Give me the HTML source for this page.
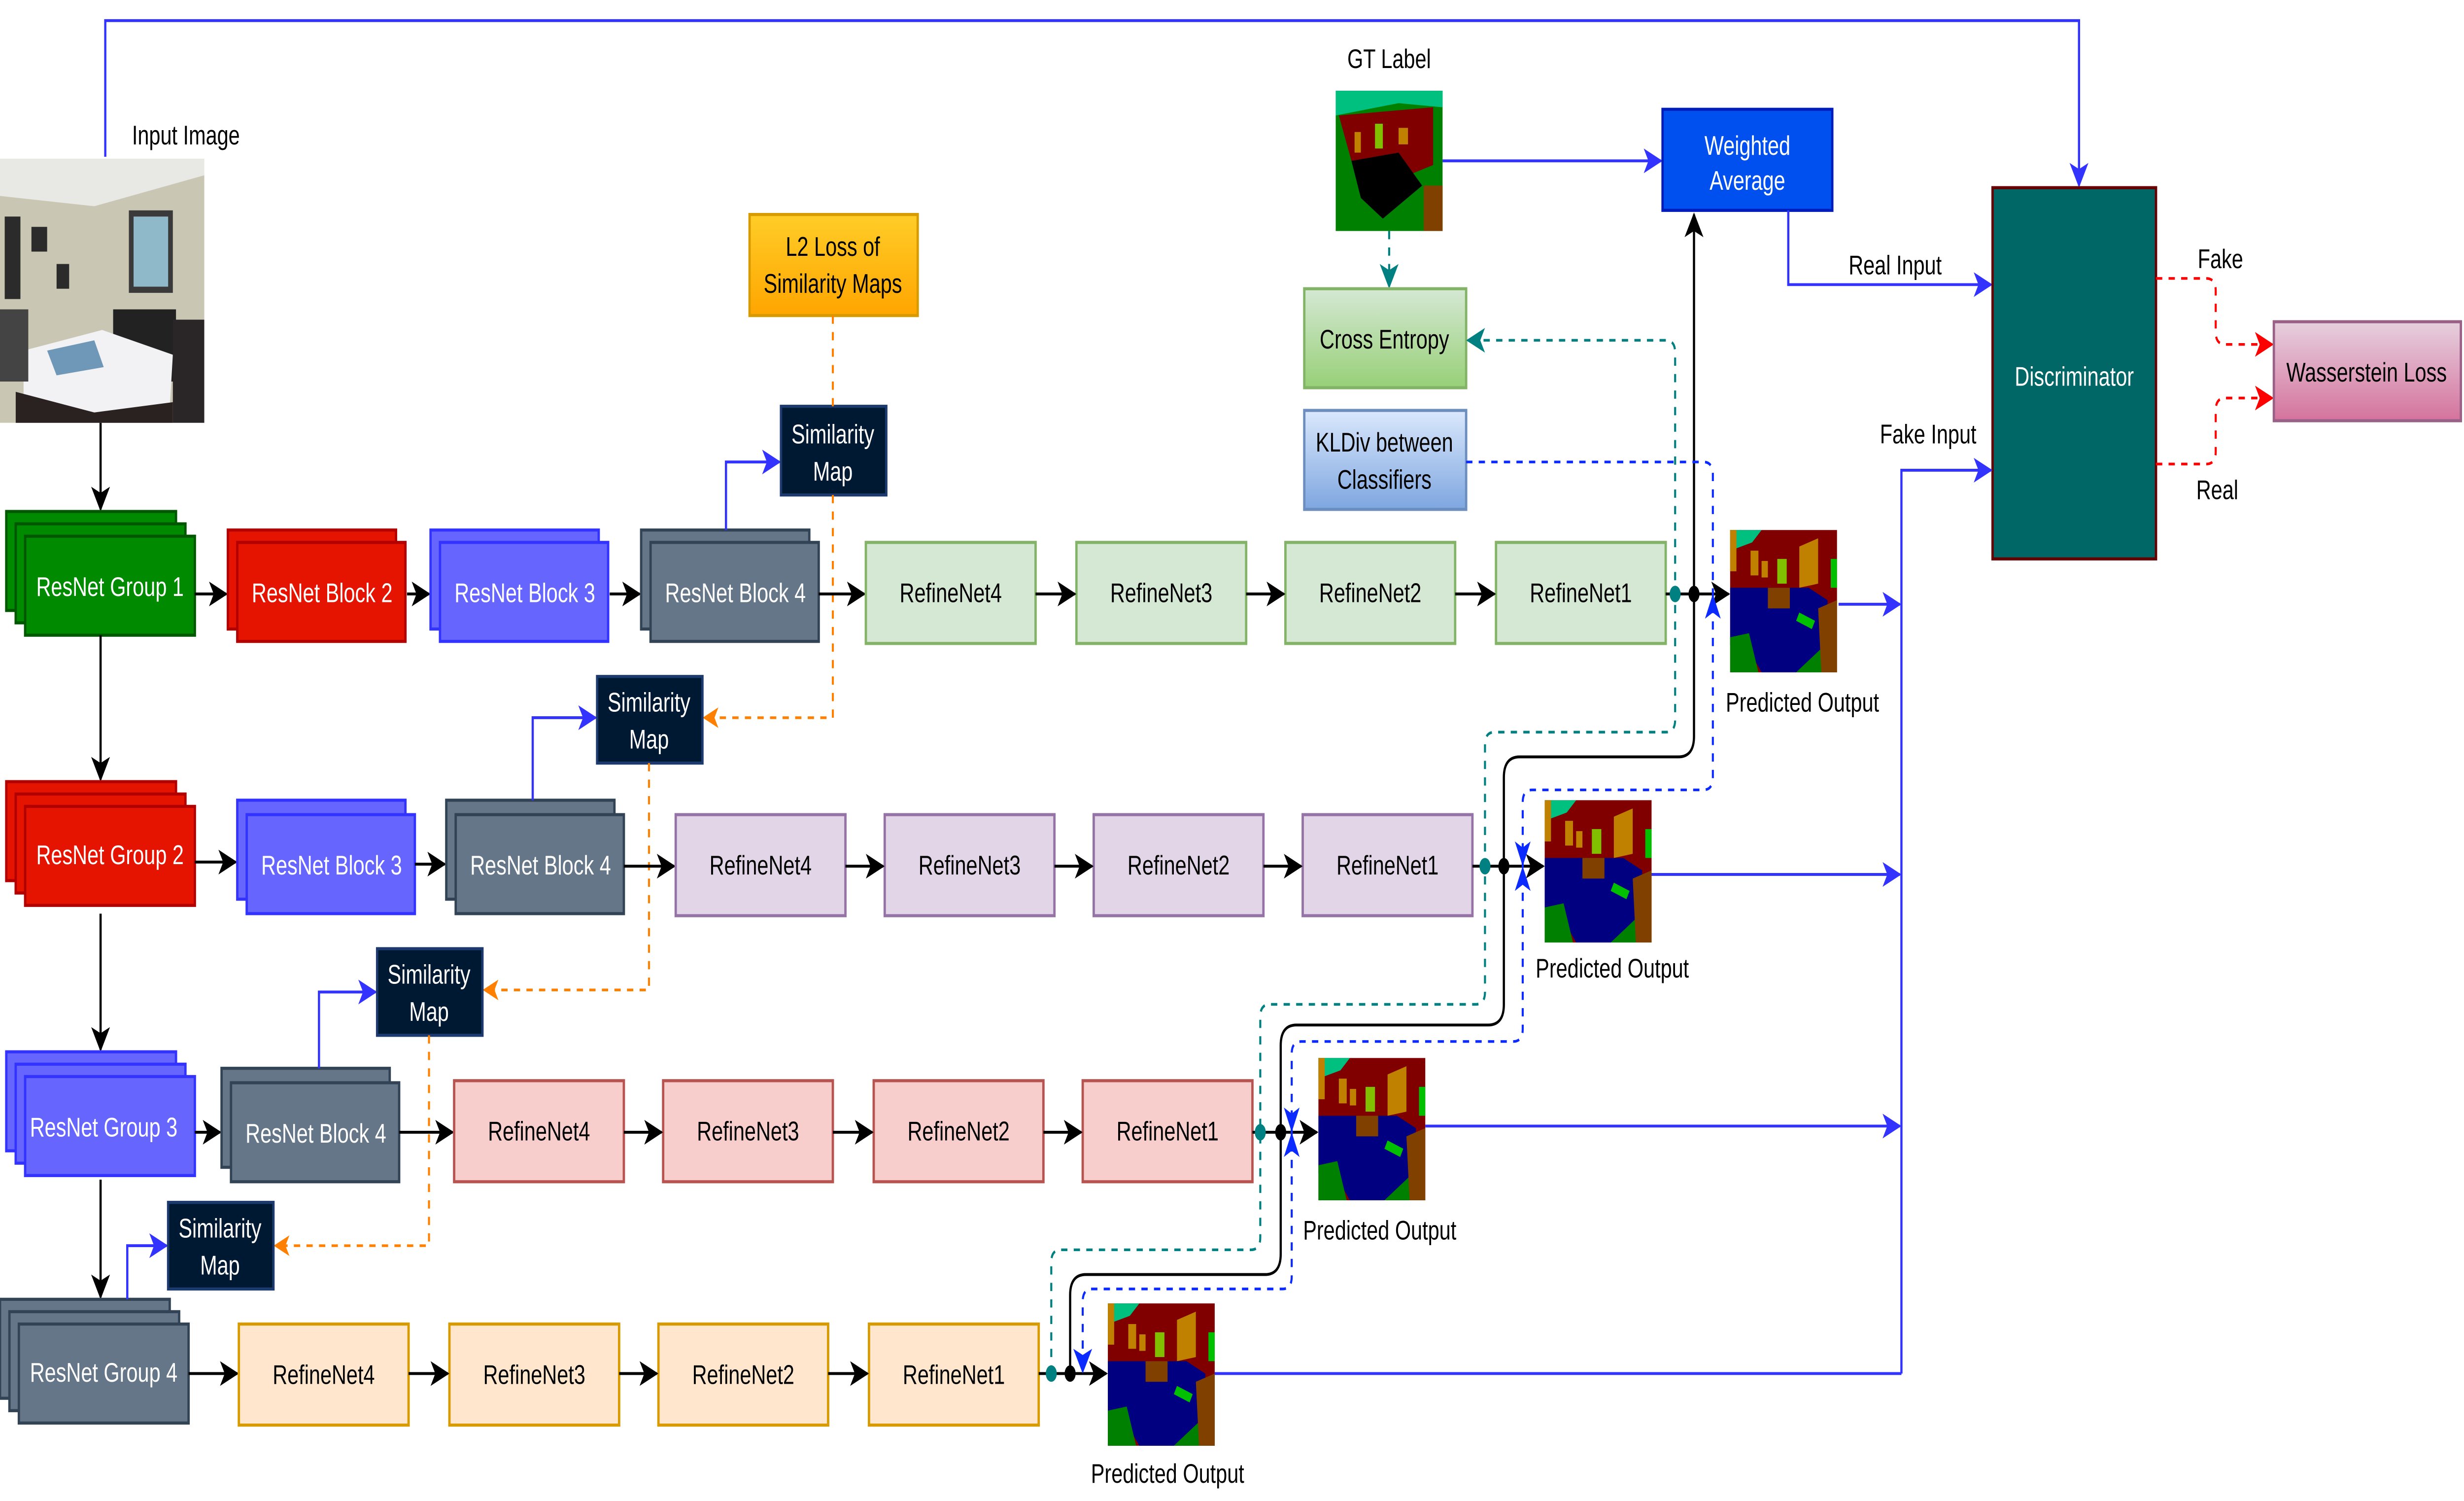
<!DOCTYPE html>
<html><head><meta charset="utf-8"><style>
html,body{margin:0;padding:0;background:#fff;width:100vw;height:100vh;overflow:hidden;}
svg{display:block;width:100vw;height:100vh;}
text{font-family:"Liberation Sans",Arial,sans-serif;font-size:13px;}
</style></head><body>
<svg viewBox="0 0 1568 727.8" preserveAspectRatio="none" xmlns="http://www.w3.org/2000/svg">
<defs>
<marker id="ak" markerUnits="userSpaceOnUse" markerWidth="12" markerHeight="12" viewBox="0 0 12 12" refX="11" refY="6" orient="auto"><path d="M0,0 L12,6 L0,12 L3,6 Z" fill="#000"/></marker>
<marker id="ab" markerUnits="userSpaceOnUse" markerWidth="12" markerHeight="12" viewBox="0 0 12 12" refX="11" refY="6" orient="auto"><path d="M0,0 L12,6 L0,12 L3,6 Z" fill="#3333ff"/></marker>
<marker id="ab2" markerUnits="userSpaceOnUse" markerWidth="12" markerHeight="12" viewBox="0 0 12 12" refX="11" refY="6" orient="auto"><path d="M0,0 L12,6 L0,12 L3,6 Z" fill="#0a2aff"/></marker>
<marker id="ao" markerUnits="userSpaceOnUse" markerWidth="10" markerHeight="10" viewBox="0 0 12 12" refX="11" refY="6" orient="auto"><path d="M0,0 L12,6 L0,12 L3,6 Z" fill="#ff8000"/></marker>
<marker id="at" markerUnits="userSpaceOnUse" markerWidth="12" markerHeight="12" viewBox="0 0 12 12" refX="11" refY="6" orient="auto"><path d="M0,0 L12,6 L0,12 L3,6 Z" fill="#008080"/></marker>
<marker id="ar" markerUnits="userSpaceOnUse" markerWidth="12" markerHeight="12" viewBox="0 0 12 12" refX="11" refY="6" orient="auto"><path d="M0,0 L12,6 L0,12 L3,6 Z" fill="#ff0000"/></marker>
<linearGradient id="gL2" x1="0" y1="0" x2="0" y2="1"><stop offset="0" stop-color="#ffcd28"/><stop offset="1" stop-color="#ffa500"/></linearGradient>
<linearGradient id="gCE" x1="0" y1="0" x2="0" y2="1"><stop offset="0" stop-color="#d5e8d4"/><stop offset="1" stop-color="#97d077"/></linearGradient>
<linearGradient id="gKL" x1="0" y1="0" x2="0" y2="1"><stop offset="0" stop-color="#dae8fc"/><stop offset="1" stop-color="#7ea6e0"/></linearGradient>
<linearGradient id="gW" x1="0" y1="0" x2="0" y2="1"><stop offset="0" stop-color="#e6d0de"/><stop offset="1" stop-color="#d5739d"/></linearGradient>
<g id="seg">
<rect x="0" y="0" width="68" height="69" fill="#800000"/>
<polygon points="0,0 20,0 14,6 0,10" fill="#00c080"/>
<rect x="0" y="0" width="4" height="20" fill="#c08000"/>
<polygon points="44,8 56,4 56,26 44,28" fill="#c08000"/>
<rect x="30" y="14" width="6" height="12" fill="#80c000"/>
<rect x="13" y="10" width="5" height="12" fill="#c08000"/>
<rect x="20" y="15" width="4" height="8" fill="#c08000"/>
<polygon points="0,28 50,28 62,34 62,50 52,69 20,69 12,58 0,56" fill="#000080"/>
<rect x="24" y="28" width="14" height="10" fill="#804000"/>
<polygon points="0,52 12,50 18,69 0,69" fill="#008000"/>
<polygon points="42,69 60,56 68,69" fill="#008000"/>
<polygon points="56,38 68,34 68,69 58,69" fill="#804000"/>
<polygon points="44,40 54,44 52,48 42,44" fill="#00c000"/>
<rect x="64" y="14" width="4" height="14" fill="#00c000"/>
</g>
</defs>

<path d="M67,76 V10 H1323 V90" fill="none" stroke="#3333ff" stroke-width="1.4" marker-end="url(#ab)"/>
<text x="84" y="70">Input Image</text>

<g>
<rect x="0" y="77" width="130" height="128" fill="#c9c7b4"/>
<polygon points="0,77 130,77 130,85 60,100 0,95" fill="#e8e8e4"/>
<rect x="82" y="102" width="28" height="40" fill="#3a3a3a"/>
<rect x="85" y="105" width="22" height="34" fill="#8fb8c8"/>
<rect x="3" y="105" width="10" height="40" fill="#2b2b2b"/>
<rect x="20" y="110" width="10" height="12" fill="#2b2b2b"/>
<rect x="36" y="128" width="8" height="12" fill="#2b2b2b"/>
<rect x="72" y="150" width="40" height="35" fill="#222"/>
<polygon points="15,170 65,160 110,172 108,198 60,205 15,195" fill="#f2f2f5"/>
<polygon points="30,170 60,165 66,178 36,182" fill="#6f98b8"/>
<polygon points="10,190 60,200 110,195 110,205 10,205" fill="#2a2220"/>
<rect x="110" y="155" width="20" height="50" fill="#2a2526"/>
<rect x="0" y="150" width="18" height="35" fill="#444"/>
</g>
<path d="M64,205 V247" stroke="#000" stroke-width="1.4" marker-end="url(#ak)"/>

<!-- ROW 1 -->
<rect x="4" y="248" width="108" height="48" fill="#008a00" stroke="#005700" stroke-width="1.5"/>
<rect x="10" y="254" width="108" height="48" fill="#008a00" stroke="#005700" stroke-width="1.5"/>
<rect x="16" y="260" width="108" height="48" fill="#008a00" stroke="#005700" stroke-width="1.5"/>
<text x="70" y="289" fill="#fff" text-anchor="middle">ResNet Group 1</text>
<path d="M124,288 H144" stroke="#000" stroke-width="1.4" marker-end="url(#ak)"/>
<rect x="145" y="257" width="107" height="48" fill="#e51400" stroke="#b20000" stroke-width="1.5"/>
<rect x="151" y="263" width="107" height="48" fill="#e51400" stroke="#b20000" stroke-width="1.5"/>
<text x="205" y="292" fill="#fff" text-anchor="middle">ResNet Block 2</text>
<path d="M259,288 H273" stroke="#000" stroke-width="1.4" marker-end="url(#ak)"/>
<rect x="274" y="257" width="107" height="48" fill="#6666ff" stroke="#3333ff" stroke-width="1.5"/>
<rect x="280" y="263" width="107" height="48" fill="#6666ff" stroke="#3333ff" stroke-width="1.5"/>
<text x="334" y="292" fill="#fff" text-anchor="middle">ResNet Block 3</text>
<path d="M388,288 H407" stroke="#000" stroke-width="1.4" marker-end="url(#ak)"/>
<rect x="408" y="257" width="107" height="48" fill="#647687" stroke="#314354" stroke-width="1.5"/>
<rect x="414" y="263" width="107" height="48" fill="#647687" stroke="#314354" stroke-width="1.5"/>
<text x="468" y="292" fill="#fff" text-anchor="middle">ResNet Block 4</text>
<path d="M462,257 V224 H496" fill="none" stroke="#3333ff" stroke-width="1.4" marker-end="url(#ab)"/>
<rect x="497" y="197" width="67" height="43" fill="#001933" stroke="#1c3a6e" stroke-width="1.5"/>
<text x="530" y="215" fill="#fff" text-anchor="middle">Similarity</text>
<text x="530" y="233" fill="#fff" text-anchor="middle">Map</text>
<rect x="477" y="104" width="107" height="49" fill="url(#gL2)" stroke="#d79b00" stroke-width="1.5"/>
<text x="530" y="124" text-anchor="middle">L2 Loss of</text>
<text x="530" y="142" text-anchor="middle">Similarity Maps</text>
<path d="M530,153 V197 M530,240 V348 H448" fill="none" stroke="#ff8000" stroke-width="1.3" stroke-dasharray="4,4" marker-end="url(#ao)"/>
<path d="M521,288 H550" stroke="#000" stroke-width="1.4" marker-end="url(#ak)"/>
<g fill="#d5e8d4" stroke="#82b366" stroke-width="1.5">
<rect x="551" y="263" width="108" height="49"/><rect x="685" y="263" width="108" height="49"/>
<rect x="818" y="263" width="108" height="49"/><rect x="952" y="263" width="108" height="49"/></g>
<g text-anchor="middle"><text x="605" y="292">RefineNet4</text><text x="739" y="292">RefineNet3</text><text x="872" y="292">RefineNet2</text><text x="1006" y="292">RefineNet1</text></g>
<path d="M659,288 H684" stroke="#000" stroke-width="1.4" marker-end="url(#ak)"/>
<path d="M793,288 H817" stroke="#000" stroke-width="1.4" marker-end="url(#ak)"/>
<path d="M926,288 H951" stroke="#000" stroke-width="1.4" marker-end="url(#ak)"/>
<path d="M1060,288 H1100" stroke="#000" stroke-width="1.4" marker-end="url(#ak)"/>
<use href="#seg" x="1101" y="257"/>
<text x="1147" y="345" text-anchor="middle">Predicted Output</text>
<path d="M1170,293 H1209" stroke="#3333ff" stroke-width="1.4" marker-end="url(#ab)"/>

<text x="884" y="33" text-anchor="middle">GT Label</text>
<g>
<rect x="850" y="44" width="68" height="68" fill="#008000"/>
<polygon points="850,44 918,44 918,52 890,50 850,56" fill="#00c080"/>
<polygon points="852,56 912,52 912,80 880,90 860,78" fill="#800000"/>
<polygon points="860,78 890,74 905,90 880,106 866,96" fill="#000"/>
<rect x="875" y="60" width="5" height="12" fill="#80c000"/>
<rect x="890" y="62" width="6" height="8" fill="#c08000"/>
<rect x="906" y="90" width="12" height="22" fill="#804000"/>
<rect x="862" y="64" width="4" height="10" fill="#c08000"/>
</g>
<path d="M918,78 H1057" stroke="#3333ff" stroke-width="1.4" marker-end="url(#ab)"/>
<rect x="1058" y="53" width="108" height="49" fill="#0050ef" stroke="#001dbc" stroke-width="1.5"/>
<text x="1112" y="75" fill="#fff" text-anchor="middle">Weighted</text>
<text x="1112" y="92" fill="#fff" text-anchor="middle">Average</text>
<path d="M1138,102 V138 H1267" fill="none" stroke="#3333ff" stroke-width="1.4" marker-end="url(#ab)"/>
<text x="1206" y="133" text-anchor="middle">Real Input</text>
<path d="M884,112 V139" stroke="#008080" stroke-width="1.3" stroke-dasharray="4,4" marker-end="url(#at)"/>
<rect x="830" y="140" width="103" height="48" fill="url(#gCE)" stroke="#82b366" stroke-width="1.5"/>
<text x="881" y="169" text-anchor="middle">Cross Entropy</text>
<rect x="830" y="199" width="103" height="48" fill="url(#gKL)" stroke="#6c8ebf" stroke-width="1.5"/>
<text x="881" y="219" text-anchor="middle">KLDiv between</text>
<text x="881" y="237" text-anchor="middle">Classifiers</text>

<rect x="1268" y="91" width="104" height="180" fill="#006666" stroke="#660000" stroke-width="1.5"/>
<text x="1320" y="187" fill="#fff" text-anchor="middle">Discriminator</text>
<path d="M1210,666 V228 H1267" fill="none" stroke="#3333ff" stroke-width="1.4" marker-end="url(#ab)"/>
<text x="1227" y="215" text-anchor="middle">Fake Input</text>
<text x="1413" y="130" text-anchor="middle">Fake</text>
<text x="1411" y="242" text-anchor="middle">Real</text>
<path d="M1372,135 H1404 Q1410,135 1410,141 V161 Q1410,167 1416,167 H1446" fill="none" stroke="#ff0000" stroke-width="1.3" stroke-dasharray="4,4" marker-end="url(#ar)"/>
<path d="M1372,225 H1404 Q1410,225 1410,219 V199 Q1410,193 1416,193 H1446" fill="none" stroke="#ff0000" stroke-width="1.3" stroke-dasharray="4,4" marker-end="url(#ar)"/>
<rect x="1447" y="156" width="119" height="48" fill="url(#gW)" stroke="#996185" stroke-width="1.5"/>
<text x="1506" y="185" text-anchor="middle">Wasserstein Loss</text>

<!-- ROW 2 -->
<path d="M64,308 V378" stroke="#000" stroke-width="1.4" marker-end="url(#ak)"/>
<rect x="4" y="379" width="108" height="48" fill="#e51400" stroke="#b20000" stroke-width="1.5"/>
<rect x="10" y="385" width="108" height="48" fill="#e51400" stroke="#b20000" stroke-width="1.5"/>
<rect x="16" y="391" width="108" height="48" fill="#e51400" stroke="#b20000" stroke-width="1.5"/>
<text x="70" y="419" fill="#fff" text-anchor="middle">ResNet Group 2</text>
<path d="M124,418 H150" stroke="#000" stroke-width="1.4" marker-end="url(#ak)"/>
<rect x="151" y="388" width="107" height="48" fill="#6666ff" stroke="#3333ff" stroke-width="1.5"/>
<rect x="157" y="395" width="107" height="48" fill="#6666ff" stroke="#3333ff" stroke-width="1.5"/>
<text x="211" y="424" fill="#fff" text-anchor="middle">ResNet Block 3</text>
<path d="M264,419 H283" stroke="#000" stroke-width="1.4" marker-end="url(#ak)"/>
<rect x="284" y="388" width="107" height="48" fill="#647687" stroke="#314354" stroke-width="1.5"/>
<rect x="290" y="395" width="107" height="48" fill="#647687" stroke="#314354" stroke-width="1.5"/>
<text x="344" y="424" fill="#fff" text-anchor="middle">ResNet Block 4</text>
<path d="M339,388 V348 H379" fill="none" stroke="#3333ff" stroke-width="1.4" marker-end="url(#ab)"/>
<rect x="380" y="328" width="67" height="42" fill="#001933" stroke="#1c3a6e" stroke-width="1.5"/>
<text x="413" y="345" fill="#fff" text-anchor="middle">Similarity</text>
<text x="413" y="363" fill="#fff" text-anchor="middle">Map</text>
<path d="M413,370 V480 H308" fill="none" stroke="#ff8000" stroke-width="1.3" stroke-dasharray="4,4" marker-end="url(#ao)"/>
<path d="M397,420 H429" stroke="#000" stroke-width="1.4" marker-end="url(#ak)"/>
<g fill="#e1d5e7" stroke="#9673a6" stroke-width="1.5">
<rect x="430" y="395" width="108" height="49"/><rect x="563" y="395" width="108" height="49"/>
<rect x="696" y="395" width="108" height="49"/><rect x="829" y="395" width="108" height="49"/></g>
<g text-anchor="middle"><text x="484" y="424">RefineNet4</text><text x="617" y="424">RefineNet3</text><text x="750" y="424">RefineNet2</text><text x="883" y="424">RefineNet1</text></g>
<path d="M538,420 H562" stroke="#000" stroke-width="1.4" marker-end="url(#ak)"/>
<path d="M671,420 H695" stroke="#000" stroke-width="1.4" marker-end="url(#ak)"/>
<path d="M804,420 H828" stroke="#000" stroke-width="1.4" marker-end="url(#ak)"/>
<path d="M937,420 H982" stroke="#000" stroke-width="1.4" marker-end="url(#ak)"/>
<use href="#seg" x="983" y="388"/>
<text x="1026" y="474" text-anchor="middle">Predicted Output</text>
<path d="M1051,424 H1209" stroke="#3333ff" stroke-width="1.4" marker-end="url(#ab)"/>

<!-- ROW 3 -->
<path d="M64,443 V509" stroke="#000" stroke-width="1.4" marker-end="url(#ak)"/>
<rect x="4" y="510" width="108" height="48" fill="#6666ff" stroke="#3333ff" stroke-width="1.5"/>
<rect x="10" y="516" width="108" height="48" fill="#6666ff" stroke="#3333ff" stroke-width="1.5"/>
<rect x="16" y="522" width="108" height="48" fill="#6666ff" stroke="#3333ff" stroke-width="1.5"/>
<text x="66" y="551" fill="#fff" text-anchor="middle">ResNet Group 3</text>
<path d="M124,549 H140" stroke="#000" stroke-width="1.4" marker-end="url(#ak)"/>
<rect x="141" y="518" width="107" height="48" fill="#647687" stroke="#314354" stroke-width="1.5"/>
<rect x="147" y="525" width="107" height="48" fill="#647687" stroke="#314354" stroke-width="1.5"/>
<text x="201" y="554" fill="#fff" text-anchor="middle">ResNet Block 4</text>
<path d="M203,518 V481 H239" fill="none" stroke="#3333ff" stroke-width="1.4" marker-end="url(#ab)"/>
<rect x="240" y="460" width="67" height="42" fill="#001933" stroke="#1c3a6e" stroke-width="1.5"/>
<text x="273" y="477" fill="#fff" text-anchor="middle">Similarity</text>
<text x="273" y="495" fill="#fff" text-anchor="middle">Map</text>
<path d="M273,502 V604 H175" fill="none" stroke="#ff8000" stroke-width="1.3" stroke-dasharray="4,4" marker-end="url(#ao)"/>
<path d="M254,549 H288" stroke="#000" stroke-width="1.4" marker-end="url(#ak)"/>
<g fill="#f8cecc" stroke="#b85450" stroke-width="1.5">
<rect x="289" y="524" width="108" height="49"/><rect x="422" y="524" width="108" height="49"/>
<rect x="556" y="524" width="108" height="49"/><rect x="689" y="524" width="108" height="49"/></g>
<g text-anchor="middle"><text x="343" y="553">RefineNet4</text><text x="476" y="553">RefineNet3</text><text x="610" y="553">RefineNet2</text><text x="743" y="553">RefineNet1</text></g>
<path d="M397,549 H421" stroke="#000" stroke-width="1.4" marker-end="url(#ak)"/>
<path d="M530,549 H555" stroke="#000" stroke-width="1.4" marker-end="url(#ak)"/>
<path d="M664,549 H688" stroke="#000" stroke-width="1.4" marker-end="url(#ak)"/>
<path d="M797,549 H838" stroke="#000" stroke-width="1.4" marker-end="url(#ak)"/>
<use href="#seg" x="839" y="513"/>
<text x="878" y="601" text-anchor="middle">Predicted Output</text>
<path d="M907,546 H1209" stroke="#3333ff" stroke-width="1.4" marker-end="url(#ab)"/>

<!-- ROW 4 -->
<path d="M64,572 V629" stroke="#000" stroke-width="1.4" marker-end="url(#ak)"/>
<rect x="0" y="630" width="108" height="48" fill="#647687" stroke="#314354" stroke-width="1.5"/>
<rect x="6" y="636" width="108" height="48" fill="#647687" stroke="#314354" stroke-width="1.5"/>
<rect x="12" y="642" width="108" height="48" fill="#647687" stroke="#314354" stroke-width="1.5"/>
<text x="66" y="670" fill="#fff" text-anchor="middle">ResNet Group 4</text>
<path d="M81,630 V604 H106" fill="none" stroke="#3333ff" stroke-width="1.4" marker-end="url(#ab)"/>
<rect x="107" y="583" width="67" height="42" fill="#001933" stroke="#1c3a6e" stroke-width="1.5"/>
<text x="140" y="600" fill="#fff" text-anchor="middle">Similarity</text>
<text x="140" y="618" fill="#fff" text-anchor="middle">Map</text>
<path d="M120,666 H151" stroke="#000" stroke-width="1.4" marker-end="url(#ak)"/>
<g fill="#ffe6cc" stroke="#d79b00" stroke-width="1.5">
<rect x="152" y="642" width="108" height="49"/><rect x="286" y="642" width="108" height="49"/>
<rect x="419" y="642" width="108" height="49"/><rect x="553" y="642" width="108" height="49"/></g>
<g text-anchor="middle"><text x="206" y="671">RefineNet4</text><text x="340" y="671">RefineNet3</text><text x="473" y="671">RefineNet2</text><text x="607" y="671">RefineNet1</text></g>
<path d="M260,666 H285" stroke="#000" stroke-width="1.4" marker-end="url(#ak)"/>
<path d="M394,666 H418" stroke="#000" stroke-width="1.4" marker-end="url(#ak)"/>
<path d="M527,666 H552" stroke="#000" stroke-width="1.4" marker-end="url(#ak)"/>
<path d="M661,666 H704" stroke="#000" stroke-width="1.4" marker-end="url(#ak)"/>
<use href="#seg" x="705" y="632"/>
<text x="743" y="719" text-anchor="middle">Predicted Output</text>
<path d="M773,666 H1210" stroke="#3333ff" stroke-width="1.4"/>

<path d="M669,666 V612 Q669,606 675,606 H796 Q802,606 802,600 V493 Q802,487 808,487 H939 Q945,487 945,481 V361 Q945,355 951,355 H1060 Q1066,355 1066,349 V171 Q1066,165 1060,165 H934" fill="none" stroke="#008080" stroke-width="1.3" stroke-dasharray="4,4" marker-end="url(#at)"/>
<path d="M681,666 V628 Q681,618 691,618 H805 Q815,618 815,608 V507 Q815,497 825,497 H947 Q957,497 957,487 V377 Q957,367 967,367 H1068 Q1078,367 1078,357 V104" fill="none" stroke="#000" stroke-width="1.4" marker-end="url(#ak)"/>
<path d="M933,224 H1084 Q1090,224 1090,230 V377 Q1090,383 1084,383 H975 Q969,383 969,389 V499 Q969,505 963,505 H828 Q822,505 822,511 V619 Q822,625 816,625 H695 Q689,625 689,631 V665" fill="none" stroke="#0a2aff" stroke-width="1.3" stroke-dasharray="4,4" marker-end="url(#ab2)"/>
<path d="M1090,288 L1085,300 L1090,297 L1095,300 Z" fill="#0a2aff"/>
<path d="M969,420 L964,408 L969,411 L974,408 Z" fill="#0a2aff"/>
<path d="M969,420 L964,432 L969,429 L974,432 Z" fill="#0a2aff"/>
<path d="M822,549 L817,537 L822,540 L827,537 Z" fill="#0a2aff"/>
<path d="M822,549 L817,561 L822,558 L827,561 Z" fill="#0a2aff"/>
<g fill="#008080"><ellipse cx="1066" cy="288" rx="3.5" ry="4"/><ellipse cx="945" cy="420" rx="3.5" ry="4"/><ellipse cx="802" cy="549" rx="3.5" ry="4"/><ellipse cx="669" cy="666" rx="3.5" ry="4"/></g>
<g fill="#000"><ellipse cx="1078" cy="288" rx="3.5" ry="4"/><ellipse cx="957" cy="420" rx="3.5" ry="4"/><ellipse cx="815" cy="549" rx="3.5" ry="4"/><ellipse cx="681" cy="666" rx="3.5" ry="4"/></g>
</svg>
</body></html>
